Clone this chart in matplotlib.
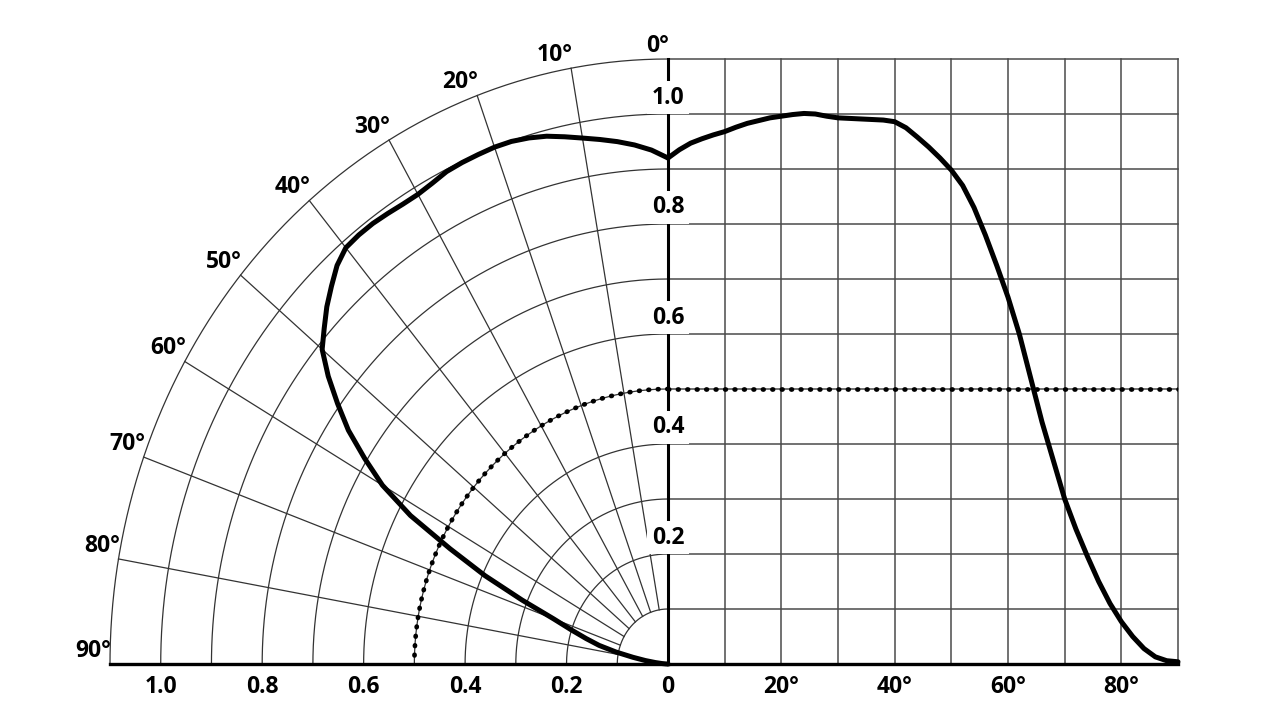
#!/usr/bin/env python3
"""
Light distribution chart: polar quarter diagram on the left,
cartesian intensity-vs-angle curve on the right, sharing the zero line.
"""
import numpy as np
import matplotlib
matplotlib.use('Agg')
import matplotlib.pyplot as plt

# --- data ---
# right side: angle (deg) -> relative intensity
CART_ANGLE = [0, 2, 4, 6, 8, 10, 12, 14, 16, 18, 20, 22, 24, 26, 28, 30, 32, 34, 36, 38, 40,
              42, 44, 46, 48, 50, 52, 54, 56, 58, 60, 62, 64, 66, 68, 70, 72, 74, 76, 78, 80,
              82, 84, 86, 88, 90]
CART_VALUE = [0.92, 0.935, 0.947, 0.955, 0.962, 0.968, 0.976, 0.983, 0.988, 0.993, 0.996,
              0.999, 1.001, 1.0, 0.996, 0.993, 0.992, 0.991, 0.99, 0.989, 0.986,
              0.975, 0.958, 0.94, 0.92, 0.898, 0.87, 0.83, 0.78, 0.725, 0.667,
              0.6, 0.52, 0.44, 0.37, 0.3, 0.245, 0.196, 0.15, 0.11, 0.077,
              0.05, 0.028, 0.013, 0.006, 0.004]

# left side: same distribution drawn as polar curve (angle from vertical, radius)
POLAR_ANGLE = [0, 2, 4, 6, 8, 10, 12, 14, 16, 18, 20, 22, 24, 26, 28, 30, 32, 34, 36, 38, 40,
               42, 44, 46, 48, 50, 52, 54, 56, 58, 60, 62, 64, 66, 68, 70, 72, 74, 76, 78, 80,
               82, 84, 86, 88, 90]
POLAR_R = [0.92, 0.935, 0.946, 0.955, 0.963, 0.971, 0.98, 0.989, 0.995, 0.999, 1.0,
           0.999, 0.998, 0.996, 0.99, 0.986, 0.986, 0.988, 0.99, 0.99, 0.988,
           0.975, 0.955, 0.935, 0.912, 0.89, 0.85, 0.805, 0.76, 0.705, 0.65,
           0.575, 0.478, 0.395, 0.31, 0.24, 0.2, 0.168, 0.14, 0.105, 0.07,
           0.045, 0.025, 0.012, 0.004, 0.0]

RING_RADII = [0.1, 0.2, 0.3, 0.4, 0.5, 0.6, 0.7, 0.8, 0.9, 1.0, 1.1]
SPOKE_ANGLES = [10, 20, 30, 40, 50, 60, 70, 80]
ANGLE_LABELS = [0, 10, 20, 30, 40, 50, 60, 70, 80, 90]
LEFT_TICKS = [1.0, 0.8, 0.6, 0.4, 0.2]
RIGHT_GRID_X = [0, 10, 20, 30, 40, 50, 60, 70, 80, 90]
RIGHT_LABELED_X = [0, 20, 40, 60, 80]
Y_GRID = [0.1, 0.2, 0.3, 0.4, 0.5, 0.6, 0.7, 0.8, 0.9, 1.0, 1.1]
Y_LABELS = [1.0, 0.8, 0.6, 0.4, 0.2]
REF_LEVEL = 0.5

RMAX = 1.1
FONT = ['Open Sans', 'DejaVu Sans']
FS = 16.5
GRID_C = '#4a4a4a'
DOTS = (0, (0.15, 1.85))
DOT_LW = 3.4


def polar_xy(angle_deg, r):
    """Angle measured from the vertical axis, going to the left."""
    a = np.radians(np.asarray(angle_deg, dtype=float))
    r = np.asarray(r, dtype=float)
    return -r * np.sin(a), r * np.cos(a)


def style_ticklabels(ax):
    for lab in ax.get_xticklabels():
        lab.set_fontsize(FS)
        lab.set_fontweight('bold')
        lab.set_family(FONT)


def draw_left(ax):
    ax.set_xlim(-RMAX, 0)
    ax.set_ylim(0, RMAX)
    for s in ax.spines.values():
        s.set_visible(False)

    # rings
    th = np.linspace(0, 90, 300)
    for r in RING_RADII:
        x, y = polar_xy(th, np.full_like(th, r))
        ax.plot(x, y, color='#333333', lw=0.9, clip_on=False, zorder=1)
    # spokes
    for a in SPOKE_ANGLES:
        x, y = polar_xy([a, a], [RING_RADII[0], RMAX])
        ax.plot(x, y, color='#333333', lw=0.9, clip_on=False, zorder=1)

    # angle labels just above-left of each spoke end
    for a in ANGLE_LABELS:
        x, y = polar_xy(a, RMAX)
        ax.annotate(f'{a}°', xy=(x, y), xytext=(1, 1), textcoords='offset points',
                    ha='right', va='bottom', fontsize=FS, fontweight='bold',
                    family=FONT, annotation_clip=False)

    # reference level as dotted quarter circle
    x, y = polar_xy(th, np.full_like(th, REF_LEVEL))
    ax.plot(x, y, color='black', lw=DOT_LW, linestyle=DOTS,
            dash_capstyle='round', zorder=3)

    # distribution curve
    x, y = polar_xy(POLAR_ANGLE, POLAR_R)
    ax.plot(x, y, color='black', lw=3.6, solid_capstyle='round',
            solid_joinstyle='round', clip_on=False, zorder=4)

    # baseline
    ax.plot([-RMAX, 0], [0, 0], color='black', lw=2.4, clip_on=False, zorder=5)

    ax.set_xticks([-v for v in LEFT_TICKS])
    ax.set_xticklabels([f'{v:.1f}' for v in LEFT_TICKS])
    ax.set_yticks([])
    ax.tick_params(axis='x', length=0, pad=8)
    style_ticklabels(ax)


def draw_right(ax):
    ax.set_xlim(0, 90)
    ax.set_ylim(0, RMAX)
    for s in ax.spines.values():
        s.set_visible(False)

    for gx in RIGHT_GRID_X[1:]:
        ax.plot([gx, gx], [0, RMAX], color=GRID_C, lw=1.1, clip_on=False, zorder=1)
    for gy in Y_GRID:
        ax.plot([0, 90], [gy, gy], color=GRID_C, lw=1.1, clip_on=False, zorder=1)

    ax.plot([0, 90], [REF_LEVEL, REF_LEVEL], color='black', lw=DOT_LW, linestyle=DOTS,
            dash_capstyle='round', zorder=3)

    ax.plot(CART_ANGLE, CART_VALUE, color='black', lw=3.6, solid_capstyle='round',
            solid_joinstyle='round', clip_on=False, zorder=4)

    # axes lines
    ax.plot([0, 90], [0, 0], color='black', lw=2.4, clip_on=False, zorder=5)
    ax.plot([0, 0], [0, RMAX], color='black', lw=2.2, clip_on=False, zorder=5)

    # value labels sitting on the vertical axis
    for v in Y_LABELS:
        ax.text(0, v + 0.03, f'{v:.1f}', ha='center', va='center', fontsize=FS,
                fontweight='bold', family=FONT, zorder=6,
                bbox=dict(boxstyle='square,pad=0.2', fc='white', ec='none'))

    ax.set_xticks(RIGHT_LABELED_X)
    ax.set_xticklabels(['0' if a == 0 else f'{a}°' for a in RIGHT_LABELED_X])
    ax.set_yticks([])
    ax.tick_params(axis='x', length=0, pad=8)
    style_ticklabels(ax)


def main():
    fig = plt.figure(figsize=(12.8, 7.21), dpi=100)
    W, H = 1280.0, 721.0
    x0, xmid, x1 = 110, 668, 1178
    ytop, ybot = 59, 664
    bottom = (H - ybot) / H
    height = (ybot - ytop) / H
    ax_left = fig.add_axes([x0 / W, bottom, (xmid - x0) / W, height])
    ax_right = fig.add_axes([xmid / W, bottom, (x1 - xmid) / W, height])
    ax_left.patch.set_alpha(0)
    ax_right.patch.set_alpha(0)

    draw_left(ax_left)
    draw_right(ax_right)

    fig.savefig('out.png', dpi=100, facecolor='white')


if __name__ == '__main__':
    main()
